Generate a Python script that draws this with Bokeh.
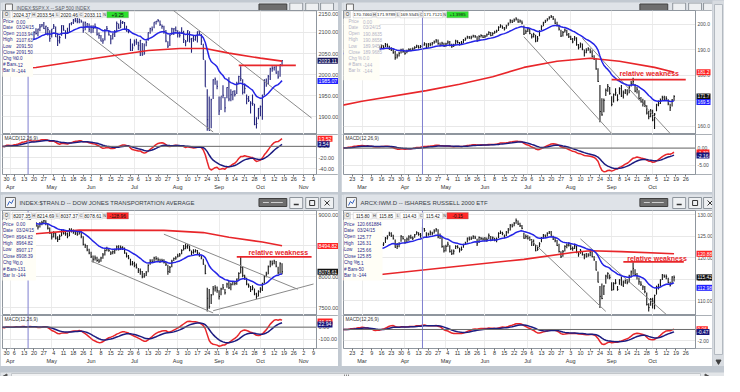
import numpy as np
import pandas as pd
from bokeh.plotting import figure
from bokeh.layouts import column, row
from bokeh.models import (Range1d, FixedTicker, LinearAxis, Span, Label, BoxAnnotation, ColumnDataSource)
from bokeh.embed import file_html
from bokeh.resources import INLINE

FONT = "Liberation Sans"
HOLIDAYS = ["2015-02-16", "2015-04-03", "2015-05-25", "2015-07-03", "2015-09-07"]
INFO_LABELS = ["Price", "Date", "Open", "High", "Low", "Close", "Chg %", "# Bars", "Bar Ix"]
HDR_LETTERS = ["H", "L", "C", "N"]

# ---------------- S&P 500 (top left), daily from 2015-03-25 ----------------
SPX_HIGH = [2097, 2067, 2067, 2088, 2084,
            2068, 2072, 2086, 2089, 2086, 2093, 2102, 2107, 2096, 2111, 2107, 2098, 2103, 2110, 2109, 2120, 2120, 2125, 2116, 2113, 2105,
            2108, 2120, 2114, 2098, 2092, 2117, 2117, 2105, 2111, 2121, 2124, 2132, 2134, 2134, 2133, 2130, 2126, 2126, 2122, 2121,
            2117, 2117, 2121, 2112, 2100, 2094, 2086, 2108, 2115, 2105, 2094, 2098, 2106, 2126, 2121, 2130, 2127, 2125, 2116, 2108, 2085, 2074,
            2083, 2085, 2078, 2082, 2075, 2074, 2081, 2100, 2111, 2114, 2124, 2127, 2132, 2128, 2119, 2116, 2106, 2079, 2095, 2111, 2110, 2114,
            2105, 2102, 2112, 2104, 2082, 2105, 2103, 2087, 2093, 2092, 2102, 2104, 2096, 2073, 2034, 1965, 1948, 1943, 1989, 1993, 1986,
            1948, 1948, 1975, 1947, 1970, 1994, 1965, 1961, 1963, 1983, 1997, 2020, 1989, 1979, 1953, 1949, 1937, 1953, 1931, 1899, 1921,
            1927, 1952, 1989, 1991, 1999, 2016, 2020, 2019, 2022, 2009, 2024, 2034]
SPX_LOW = [2061, 2045, 2052, 2062, 2067,
           2048, 2057, 2056, 2076, 2074, 2074, 2091, 2092, 2083, 2096, 2100, 2073, 2082, 2095, 2091, 2103, 2112, 2108, 2094, 2093, 2078,
           2088, 2108, 2089, 2068, 2074, 2092, 2104, 2085, 2096, 2100, 2117, 2120, 2124, 2122, 2122, 2123, 2099, 2105, 2112, 2101,
           2098, 2099, 2109, 2093, 2085, 2079, 2073, 2081, 2105, 2093, 2072, 2083, 2089, 2100, 2109, 2110, 2120, 2108, 2102, 2098, 2056, 2056,
           2067, 2071, 2058, 2044, 2045, 2047, 2067, 2080, 2097, 2102, 2110, 2119, 2124, 2115, 2109, 2097, 2077, 2063, 2068, 2094, 2094, 2102,
           2088, 2088, 2096, 2075, 2067, 2078, 2076, 2052, 2078, 2080, 2076, 2094, 2070, 2036, 1971, 1867, 1867, 1873, 1942, 1976, 1965,
           1904, 1916, 1944, 1911, 1944, 1937, 1937, 1939, 1948, 1954, 1977, 1984, 1953, 1955, 1930, 1935, 1908, 1926, 1880, 1872, 1894,
           1901, 1893, 1951, 1971, 1977, 1987, 2007, 2010, 2002, 1990, 1995, 2020]
SPX_CLOSE = [2061.05, 2056.15, 2061.02, 2086.24, 2067.89,
             2059.69, 2066.96, 2080.62, 2076.33, 2081.90, 2091.18, 2102.06, 2092.43, 2095.84, 2106.63, 2104.99, 2081.18, 2100.40, 2097.29, 2107.96, 2112.93, 2117.69, 2108.92, 2114.76, 2106.85, 2085.51,
             2108.29, 2114.49, 2089.46, 2080.15, 2088.00, 2116.10, 2105.33, 2099.12, 2098.48, 2121.10, 2122.73, 2129.20, 2127.83, 2125.85, 2130.82, 2126.06, 2104.20, 2123.48, 2120.79, 2107.39,
             2111.73, 2109.60, 2114.07, 2095.84, 2092.83, 2079.28, 2080.15, 2105.20, 2108.86, 2094.11, 2084.43, 2096.29, 2100.44, 2121.24, 2109.99, 2122.85, 2124.20, 2108.58, 2102.31, 2101.49, 2057.64, 2063.11,
             2077.42, 2076.78, 2068.76, 2081.34, 2046.68, 2051.31, 2076.62, 2099.60, 2108.95, 2107.40, 2124.29, 2126.64, 2128.28, 2119.21, 2114.15, 2102.15, 2079.65, 2067.64, 2093.25, 2108.57, 2108.63, 2103.84,
             2098.04, 2093.32, 2099.84, 2083.56, 2077.57, 2104.18, 2084.07, 2086.05, 2083.39, 2091.54, 2102.44, 2096.92, 2079.61, 2035.73, 1970.89, 1893.21, 1867.61, 1940.51, 1987.66, 1988.87, 1972.18,
             1913.85, 1948.86, 1951.13, 1921.22, 1969.41, 1942.04, 1952.29, 1961.05, 1953.03, 1978.09, 1995.31, 1990.20, 1958.03, 1966.97, 1942.74, 1938.76, 1932.24, 1931.34, 1881.77, 1884.09, 1920.03,
             1923.82, 1951.36, 1987.05, 1979.92, 1995.83, 2013.43, 2014.89, 2017.46, 2003.69, 1994.24, 2023.86, 2033.11]
SPX_RED_DATES = ["2015-03-25", "2015-04-21", "2015-06-05", "2015-07-13", "2015-08-04", "2015-08-21", "2015-09-09", "2015-10-01", "2015-10-16"]
SPX_RED_VALS = [2012, 2017, 2040, 2057, 2062, 2062, 2051, 2039, 2032]

# ---------------- top right ETF, daily from 2015-02-13 ----------------
ETF_HIGH = [189.4, 189.8, 190.3, 190.9, 190.9, 191.3, 191.9, 191.5, 191.9, 191.8,
            192.1, 191.7, 190.9, 191.8, 191.3, 190.9, 190.6, 191.0, 192.2, 191.7, 192.1, 191.8, 192.7, 192.5, 191.6, 191.0, 190.3, 189.5, 188.4, 189.2, 190.4, 190.5,
            189.7, 190.0, 190.6, 190.6, 190.9, 191.4, 192.0, 191.8, 191.9, 192.5, 193.0, 192.6, 192.7, 192.8, 193.1, 193.6, 194.2, 194.0, 192.9, 193.2, 192.8,
            192.8, 193.6, 193.4, 192.4, 192.4, 193.9, 193.7, 193.1, 193.4, 194.2, 194.8, 195.5, 195.4, 195.5, 195.9, 195.8, 195.3, 195.7, 196.1, 195.8,
            195.8, 196.4, 197.3, 197.0, 196.9, 197.5, 197.9, 199.2, 200.0, 199.5, 198.9, 199.8, 200.7, 202.0, 201.8, 202.3, 202.8, 202.2, 201.9, 201.5, 199.5, 198.0,
            198.8, 198.6, 196.3, 196.7, 195.9, 195.4, 197.7, 199.6, 201.0, 201.8, 202.4, 203.1, 203.6, 203.2, 202.3, 201.0, 199.8, 197.9, 197.4, 198.3, 197.9, 196.6,
            195.5, 194.6, 195.4, 194.9, 192.3, 192.9, 192.5, 190.1, 190.6, 191.0, 190.5, 189.8, 187.9, 186.7, 182.8, 176.2, 171.0, 170.9, 174.8, 176.6, 175.4,
            171.8, 172.9, 174.9, 172.6, 175.3, 176.2, 174.0, 174.6, 174.5, 175.8, 177.8, 179.0, 176.6, 175.4, 174.1, 171.5, 170.8, 170.2, 168.3, 166.0, 166.8,
            166.5, 165.2, 168.9, 170.1, 170.9, 172.0, 172.0, 171.8, 170.6, 168.9, 170.7, 172.2]
ETF_LOW = [187.8, 188.2, 188.9, 189.5, 189.4, 190.0, 190.6, 190.1, 190.5, 190.4,
           190.7, 190.2, 189.4, 190.0, 189.4, 189.6, 188.7, 189.0, 190.3, 190.2, 190.7, 190.4, 191.1, 190.9, 190.0, 189.5, 188.4, 186.1, 186.6, 187.4, 188.5, 188.8,
           188.1, 188.6, 189.2, 189.4, 189.5, 190.1, 190.7, 190.5, 190.6, 191.1, 191.6, 190.6, 190.9, 191.4, 191.7, 192.4, 192.8, 192.0, 191.3, 191.6, 191.2,
           191.2, 192.2, 191.4, 190.8, 191.1, 192.0, 192.5, 191.7, 192.0, 192.6, 193.5, 194.3, 194.3, 194.1, 194.8, 194.7, 193.3, 193.6, 194.8, 194.6,
           194.6, 195.1, 195.8, 195.3, 195.5, 196.3, 196.7, 197.4, 198.6, 198.2, 197.6, 198.2, 199.4, 200.4, 200.5, 200.9, 201.5, 200.6, 200.6, 200.0, 195.8, 196.2,
           197.0, 196.1, 194.4, 194.8, 193.0, 193.2, 195.3, 197.8, 199.2, 200.5, 201.2, 201.9, 202.5, 201.7, 200.1, 199.1, 197.6, 195.0, 195.2, 196.8, 195.5, 194.6,
           193.8, 192.6, 193.5, 191.6, 190.1, 190.8, 189.8, 187.4, 188.6, 189.6, 188.6, 187.0, 186.0, 182.2, 177.4, 161.6, 164.1, 165.5, 171.9, 173.6, 172.4,
           167.9, 169.3, 172.0, 169.8, 172.5, 171.5, 170.9, 172.7, 172.1, 173.0, 175.6, 176.4, 173.4, 172.9, 170.4, 169.3, 167.8, 167.6, 164.6, 162.8, 163.6,
           162.0, 159.0, 165.9, 167.9, 168.8, 170.1, 170.0, 170.2, 168.3, 166.0, 167.8, 170.0]
ETF_CLOSE = [188.5, 189.0, 189.6, 190.2, 190.0, 190.8, 191.2, 190.6, 191.4, 191.0,
             191.5, 190.6, 190.1, 191.2, 189.8, 190.4, 189.2, 190.5, 191.3, 190.8, 191.6, 190.9, 192.0, 191.4, 190.3, 189.9, 188.9, 186.9, 187.6, 188.6, 189.8, 189.3,
             188.6, 189.4, 190.1, 189.7, 190.3, 190.9, 191.5, 190.8, 191.3, 191.9, 192.4, 190.9, 192.2, 192.0, 192.6, 193.1, 193.5, 192.4, 191.8, 192.6, 191.4,
             192.3, 193.0, 191.7, 191.2, 191.9, 193.4, 192.8, 192.2, 192.6, 193.7, 194.2, 195.0, 194.6, 194.9, 195.4, 195.1, 193.5, 195.2, 195.6, 194.9,
             195.3, 195.9, 196.8, 195.6, 196.4, 196.9, 197.3, 198.8, 199.4, 198.6, 198.1, 199.3, 200.2, 201.4, 200.8, 201.7, 202.1, 200.9, 201.3, 200.5, 196.2, 197.1,
             198.2, 196.4, 195.1, 196.0, 193.4, 194.3, 197.2, 199.1, 200.5, 201.2, 202.0, 202.6, 203.0, 202.2, 200.4, 199.6, 198.1, 195.4, 196.8, 197.7, 195.9, 195.1,
             194.2, 193.1, 194.6, 192.0, 190.8, 192.3, 190.2, 188.9, 189.7, 190.4, 189.1, 187.3, 186.4, 182.5, 177.6, 165.8, 164.5, 170.2, 174.1, 175.6, 172.9,
             168.6, 172.4, 173.1, 170.5, 174.8, 171.9, 173.2, 174.0, 172.8, 175.3, 176.9, 177.6, 173.8, 174.5, 170.9, 169.8, 169.1, 168.2, 165.2, 163.8, 166.0,
             162.5, 164.8, 168.4, 168.9, 170.2, 171.3, 170.6, 170.9, 168.8, 167.3, 170.3, 171.71]
ETF_RED_DATES = ["2015-02-13", "2015-03-02", "2015-04-17", "2015-05-12", "2015-06-05", "2015-06-29", "2015-07-23", "2015-08-17", "2015-09-08", "2015-10-02", "2015-10-16"]
ETF_RED_VALS = [168.3, 169.8, 174.0, 176.5, 179.4, 183.1, 185.5, 186.7, 185.5, 183.1, 181.2]

# ---------------- Dow Jones Transportation (bottom left), daily from 2015-03-25 ----------------
TRAN_HIGH = [8900, 8860, 8870, 8920, 8910,
             8870, 8880, 8910, 8900, 8880, 8890, 8920, 8910, 8870, 8890, 8930, 8890, 8890, 8880, 8840, 8880, 8900, 8912, 8910, 8860, 8790,
             8720, 8730, 8710, 8650, 8680, 8760, 8760, 8720, 8710, 8780, 8780, 8760, 8740, 8730, 8750, 8730, 8650, 8530, 8510, 8450,
             8400, 8340, 8340, 8320, 8290, 8320, 8380, 8440, 8480, 8460, 8410, 8420, 8450, 8500, 8506, 8500, 8490, 8470, 8390, 8350, 8290, 8250,
             8240, 8210, 8140, 8130, 8090, 8060, 8090, 8200, 8280, 8280, 8320, 8330, 8310, 8290, 8290, 8280, 8240, 8190, 8170, 8270, 8310, 8330,
             8370, 8380, 8440, 8510, 8532, 8520, 8500, 8420, 8440, 8440, 8430, 8390, 8340, 8290, 8190, 7820, 7800, 7720, 7850, 7860, 7840,
             7780, 7820, 7880, 7800, 7900, 7930, 7900, 7930, 7930, 7970, 8070, 8330, 8160, 8030, 7980, 7890, 7850, 7860, 7810, 7740, 7780,
             7830, 7900, 8020, 8080, 8180, 8260, 8260, 8270, 8250, 8160, 8230, 8214.69]
TRAN_LOW = [8820, 8770, 8780, 8830, 8850,
            8790, 8800, 8820, 8840, 8800, 8820, 8860, 8840, 8790, 8800, 8860, 8820, 8820, 8800, 8760, 8790, 8830, 8860, 8830, 8760, 8690,
            8600, 8630, 8600, 8560, 8590, 8650, 8680, 8660, 8620, 8650, 8710, 8690, 8670, 8660, 8680, 8620, 8500, 8460, 8410, 8360,
            8300, 8227, 8260, 8240, 8220, 8240, 8290, 8340, 8410, 8400, 8350, 8360, 8370, 8420, 8420, 8430, 8430, 8370, 8310, 8280, 8180, 8180,
            8150, 8130, 8060, 8030, 7973, 7980, 8010, 8070, 8190, 8220, 8230, 8260, 8240, 8220, 8230, 8210, 8170, 8030, 8060, 8150, 8250, 8270,
            8310, 8320, 8360, 8420, 8440, 8450, 8410, 8350, 8370, 8390, 8350, 8320, 8280, 8190, 8040, 7439, 7480, 7560, 7700, 7760, 7740,
            7630, 7700, 7790, 7710, 7820, 7800, 7780, 7860, 7860, 7870, 7950, 8050, 7990, 7950, 7860, 7820, 7750, 7780, 7700, 7640, 7680,
            7740, 7770, 7890, 7990, 8040, 8150, 8180, 8200, 8150, 8040, 8050, 8037.37]
TRAN_CLOSE = [8850, 8800, 8830, 8900, 8860,
              8820, 8850, 8880, 8860, 8830, 8870, 8900, 8860, 8820, 8870, 8900, 8840, 8870, 8830, 8800, 8850, 8870, 8900, 8860, 8780, 8700,
              8640, 8700, 8620, 8600, 8650, 8740, 8700, 8690, 8650, 8760, 8740, 8720, 8700, 8680, 8720, 8650, 8520, 8500, 8430, 8380,
              8320, 8280, 8300, 8260, 8250, 8300, 8350, 8420, 8450, 8420, 8380, 8400, 8430, 8480, 8440, 8470, 8460, 8380, 8330, 8300, 8200, 8210,
              8180, 8150, 8100, 8080, 8000, 8010, 8060, 8180, 8250, 8240, 8300, 8290, 8270, 8250, 8260, 8230, 8200, 8080, 8150, 8250, 8290, 8300,
              8330, 8350, 8420, 8450, 8480, 8500, 8430, 8390, 8400, 8420, 8380, 8340, 8300, 8200, 8050, 7650, 7520, 7700, 7800, 7820, 7780,
              7680, 7800, 7820, 7740, 7880, 7820, 7870, 7920, 7890, 7960, 8050, 8150, 8020, 7990, 7880, 7850, 7790, 7820, 7720, 7680, 7760,
              7800, 7890, 8000, 8040, 8160, 8240, 8210, 8250, 8170, 8060, 8207.57, 8078.61]
TRAN_RED_DATES = ["2015-03-25", "2015-04-21", "2015-05-21", "2015-07-23", "2015-08-20", "2015-09-09", "2015-10-02", "2015-10-16"]
TRAN_RED_VALS = [8670, 8690, 8750, 8745, 8710, 8634, 8558, 8497]

# ---------------- iShares Russell 2000 (bottom right), daily from 2015-02-13 ----------------
IWM_HIGH = [122.3, 122.4, 122.2, 122.5, 123.2, 123.0, 123.2, 123.4, 123.6, 123.5,
            124.0, 123.4, 122.6, 123.0, 122.5, 122.3, 121.3, 121.4, 122.9, 122.5, 123.3, 123.6, 124.8, 125.2, 126.0, 125.9, 125.3, 124.2, 123.4, 123.6, 125.2, 125.0,
            124.3, 124.7, 125.2, 125.3, 124.9, 125.5, 126.1, 125.9, 125.7, 127.2, 126.9, 125.9, 125.8, 126.3, 126.0, 126.6, 126.9, 126.6, 125.6, 124.9, 122.8,
            123.0, 123.7, 122.9, 121.9, 121.9, 122.9, 122.9, 122.3, 122.6, 123.2, 123.7, 124.7, 124.9, 124.9, 125.2, 125.1, 124.4, 124.9, 124.8, 124.7,
            124.8, 124.7, 125.6, 125.0, 124.9, 124.6, 124.7, 125.9, 126.3, 126.0, 125.4, 126.2, 126.9, 127.8, 127.9, 128.3, 129.1, 128.6, 128.1, 127.6, 125.8, 125.4,
            125.2, 124.9, 124.3, 124.2, 123.0, 122.8, 123.6, 124.8, 125.5, 125.4, 125.9, 126.2, 126.2, 125.1, 124.7, 124.1, 123.2, 121.5, 121.8, 122.9, 123.3, 123.6,
            123.1, 122.6, 123.2, 122.8, 121.3, 122.0, 121.5, 120.9, 121.1, 121.0, 121.5, 121.4, 120.4, 119.2, 116.8, 113.4, 114.0, 113.6, 116.0, 116.6, 116.1,
            114.3, 114.3, 115.0, 113.4, 115.0, 115.6, 114.7, 114.9, 115.0, 116.0, 117.0, 118.9, 117.3, 116.4, 115.4, 114.5, 113.6, 113.4, 111.9, 109.4, 110.6,
            110.7, 111.4, 113.5, 113.9, 115.0, 116.2, 116.1, 116.1, 115.3, 114.4, 115.7, 115.85]
IWM_LOW = [121.3, 121.3, 121.2, 121.6, 122.2, 122.2, 122.3, 122.7, 122.9, 122.8,
           122.9, 122.5, 121.6, 121.8, 120.9, 121.1, 119.8, 120.1, 121.2, 121.6, 122.1, 122.7, 123.4, 124.2, 125.0, 124.8, 124.2, 122.3, 122.0, 122.4, 123.7, 124.2,
           123.2, 123.4, 123.9, 124.4, 124.1, 124.6, 125.3, 125.1, 124.6, 125.4, 126.0, 124.6, 125.1, 125.2, 125.2, 125.6, 126.0, 124.5, 124.3, 122.3, 121.2,
           121.4, 122.5, 121.2, 120.6, 120.7, 122.0, 122.1, 121.2, 121.6, 122.3, 123.0, 123.5, 124.0, 124.1, 124.3, 124.3, 122.7, 123.4, 124.1, 124.0,
           123.8, 123.7, 124.3, 123.8, 123.9, 123.8, 123.6, 124.5, 125.5, 125.2, 124.5, 125.0, 125.6, 126.3, 127.0, 127.3, 127.9, 127.6, 127.1, 126.6, 124.4, 124.4,
           124.2, 123.9, 122.7, 122.7, 121.5, 121.6, 122.4, 123.6, 124.4, 124.6, 124.9, 125.5, 125.1, 124.1, 123.6, 122.7, 121.2, 119.9, 120.2, 121.4, 122.2, 122.6,
           121.8, 121.6, 122.0, 121.0, 120.2, 120.9, 120.5, 119.6, 120.0, 120.2, 120.3, 120.1, 119.3, 117.0, 114.2, 108.3, 110.3, 111.3, 113.9, 115.1, 115.0,
           112.3, 112.4, 113.8, 112.3, 113.7, 113.5, 113.2, 113.9, 113.8, 114.2, 115.4, 116.0, 115.8, 114.9, 113.7, 113.4, 112.5, 111.7, 108.9, 107.5, 108.8,
           108.2, 108.0, 111.4, 112.6, 113.3, 114.8, 115.3, 115.0, 114.1, 113.3, 113.8, 114.43]
IWM_CLOSE = [121.8, 121.9, 121.7, 122.2, 122.9, 122.5, 122.9, 123.0, 123.3, 123.1,
             123.6, 122.7, 122.0, 122.6, 121.2, 121.9, 120.0, 121.0, 122.6, 121.8, 123.0, 123.2, 124.5, 124.8, 125.6, 125.2, 124.4, 122.4, 122.6, 123.3, 125.0, 124.4,
             123.5, 124.3, 124.8, 124.6, 124.5, 125.3, 125.8, 125.4, 125.2, 126.7, 126.3, 124.8, 125.4, 125.8, 125.6, 126.2, 126.5, 124.8, 124.9, 122.6, 121.6,
             122.6, 123.1, 121.4, 120.9, 121.5, 122.6, 122.4, 121.8, 121.9, 123.0, 123.4, 124.5, 124.3, 124.5, 124.9, 124.6, 123.2, 124.7, 124.4, 124.3,
             124.3, 124.2, 125.1, 124.0, 124.6, 124.0, 124.3, 125.6, 125.8, 125.6, 125.0, 125.9, 126.4, 127.5, 127.3, 127.9, 128.6, 127.8, 127.4, 126.8, 124.5, 124.9,
             124.5, 124.2, 123.7, 123.2, 121.6, 121.9, 123.2, 124.5, 125.2, 124.8, 125.6, 125.9, 125.2, 124.3, 123.9, 122.8, 121.4, 120.2, 121.4, 122.6, 122.9, 122.9,
             122.1, 122.1, 122.7, 121.3, 120.8, 121.7, 120.7, 120.6, 120.2, 120.6, 121.3, 120.2, 119.5, 117.1, 114.3, 111.0, 110.5, 113.4, 115.7, 116.3, 115.4,
             112.5, 114.0, 114.1, 112.6, 114.8, 113.6, 114.3, 114.7, 114.2, 115.7, 116.7, 117.5, 116.1, 115.8, 114.4, 113.8, 113.2, 112.1, 109.1, 108.4, 110.3,
             109.9, 111.2, 113.2, 113.0, 114.8, 115.9, 115.6, 115.6, 114.2, 113.6, 115.5, 115.42]
IWM_RED_DATES = ["2015-02-13", "2015-03-02", "2015-06-29", "2015-08-04", "2015-08-17", "2015-09-09", "2015-10-16"]
IWM_RED_VALS = [115.0, 115.6, 119.6, 121.2, 121.6, 121.4, 120.9]

CURSOR_DATE = "2015-04-15"


def trading_days(start, end):
    d = pd.bdate_range(start, end)
    return d[~d.isin(pd.to_datetime(HOLIDAYS))]


def ema(a, n):
    a = np.asarray(a, dtype=float)
    out = np.empty_like(a)
    out[0] = a[0]
    k = 2.0 / (n + 1)
    for i in range(1, len(a)):
        out[i] = out[i - 1] + k * (a[i] - out[i - 1])
    return out


def value_scale(fig, xb, xe, ticks, fmt, fs, lo, hi, hpx, tags, tag_fs):
    """Right-hand price scale drawn inside the frame: tick labels and coloured value tags."""
    fig.add_layout(BoxAnnotation(left=xb, right=xe + 5, fill_color="white", fill_alpha=1, line_color=None))
    fig.add_layout(Span(location=xb, dimension="height", line_color="#8f969e", line_width=1))
    for t in ticks:
        d = (hi - t) / (hi - lo) * hpx
        off = 0.0
        if d < 3.6:
            off = -(3.6 - d)
        elif hpx - d < 3.6:
            off = 3.6 - (hpx - d)
        fig.add_layout(Label(x=xb, y=t, x_offset=2, y_offset=off, text=fmt % t, text_font=FONT,
                             text_font_size=fs, text_color="#4a4a4a", text_baseline="middle"))
    for txt, val, col in tags:
        fig.add_layout(Label(x=xb, y=val, x_offset=1, text=txt, text_font=FONT, text_font_size=tag_fs,
                             text_color="white", text_baseline="middle", background_fill_color=col,
                             background_fill_alpha=1, padding=1))


def title_bar(width, height, title, right_side, small):
    t = figure(width=width, height=height, x_range=Range1d(0, width), y_range=Range1d(0, height),
               toolbar_location=None, output_backend="svg", x_axis_location=None, y_axis_location=None,
               min_border=0, background_fill_color="#dfe3e8", border_fill_color="#dfe3e8",
               outline_line_color=None)
    t.grid.visible = False
    if right_side:
        dark, btns = width - 73, [width - 40, width - 24, width - 9]
    else:
        dark, btns = width - 80, [width - 49, width - 33, width - 18]
    if small:
        t.quad(left=[3], right=[10], bottom=[1.5], top=[height - 1.5], fill_color="#f7f7f7", line_color="#6b6b6b")
        if title:
            t.add_layout(Label(x=14, y=height / 2 - 0.5, text=title, text_font=FONT, text_font_size="4.8px",
                               text_color="#5a6068", text_baseline="middle"))
        t.quad(left=[dark], right=[dark + 28], bottom=[1.5], top=[height - 1.5], fill_color="#6e6e6e", line_color="#404040")
        for b in btns:
            t.quad(left=[b], right=[b + 13], bottom=[0.5], top=[height - 0.5], fill_color="#eef0f2", line_color="#8e959c")
        return t
    t.quad(left=[3], right=[13], bottom=[3], top=[13], fill_color="#f7f7f7", line_color="#6b6b6b")
    t.line([5, 7, 9, 11], [5, 9, 7, 11], line_color="#2f5fbf", line_width=1)
    if title:
        t.add_layout(Label(x=17, y=8, text=title, text_font=FONT, text_font_size="6px",
                           text_color="#3a3f45", text_baseline="middle"))
    t.quad(left=[dark], right=[dark + 28], bottom=[4], top=[12], fill_color="#6e6e6e", line_color="#404040")
    t.segment(x0=[dark + 4, dark + 12], y0=[8, 8], x1=[dark + 10, dark + 24], y1=[8, 8], line_color="#cfcfcf")
    for b in btns:
        t.quad(left=[b], right=[b + 13], bottom=[2], top=[13], fill_color="#eef0f2", line_color="#8e959c")
    t.segment(x0=[btns[0] + 4], y0=[6], x1=[btns[0] + 9], y1=[6], line_color="#333", line_width=1.5)
    t.quad(left=[btns[1] + 4], right=[btns[1] + 9], bottom=[5], top=[10], fill_color=None, line_color="#333")
    t.segment(x0=[btns[2] + 4, btns[2] + 4], y0=[5, 10], x1=[btns[2] + 9, btns[2] + 9], y1=[10, 5], line_color="#333")
    return t


def build(cfg):
    W, bl, br = cfg["W"], cfg["bl"], cfg["br"]
    cal = trading_days(cfg["cal_start"], cfg["cal_end"])
    n = min(len(cfg["high"]), len(cfg["low"]), len(cfg["close"]))
    hi = np.asarray(cfg["high"][:n], float)
    lo = np.asarray(cfg["low"][:n], float)
    cl = np.asarray(cfg["close"][:n], float)
    x = np.arange(n, dtype=float)

    def di(s):
        return float(np.searchsorted(cal.values, np.datetime64(s)))

    x0, x1 = cfg["x0"], cfg["x1"]
    x1e = x0 + (x1 - x0) * (W - bl) / (W - bl - br)   # frame also holds the value scale
    xr = Range1d(x0, x1e)
    plo, phi = cfg["prange"]
    mlo, mhi = cfg["mrange"]

    def fx(r):
        return x0 + r / cfg["ref_fw"] * (x1 - x0)

    def fy(r):
        return phi - r / cfg["ref_ph"] * (phi - plo)

    def my(r):
        return mhi - r / cfg["ref_mh"] * (mhi - mlo)

    week_t, week_l, mon_t, mon_l = [], {}, [], {}
    for i, d in enumerate(cal):
        if i == 0 or d.weekday() <= cal[i - 1].weekday():
            if x0 + 1.5 <= i <= x1 - 1:
                week_t.append(i)
                week_l[float(i)] = str(d.day)
        if i == 0 or d.month != cal[i - 1].month:
            if x0 + 1.5 <= i <= x1 - 3:
                mon_t.append(i)
                mon_l[float(i)] = d.strftime("%b")

    # ---------------- price panel ----------------
    p = figure(width=W, height=cfg["ph"], x_range=xr, y_range=Range1d(plo, phi),
               toolbar_location=None, output_backend="svg", x_axis_location=None,
               y_axis_location=None, min_border_left=bl, min_border_right=0,
               min_border_top=0, min_border_bottom=0, background_fill_color="white",
               border_fill_color="white", outline_line_color="#8f969e")
    p.ygrid.ticker = FixedTicker(ticks=cfg["pticks"])
    p.ygrid.grid_line_color = "#e8e8e8"
    p.xgrid.ticker = FixedTicker(ticks=mon_t)
    p.xgrid.grid_line_color = "#ececec"

    cur = di(CURSOR_DATE)
    p.add_layout(Span(location=cur, dimension="height", line_color="#7f7fcf", line_width=1))

    src = ColumnDataSource(dict(x=x, hi=hi, lo=lo, c=cl, xc=x + 0.45))
    p.segment(x0="x", y0="lo", x1="x", y1="hi", source=src, line_color=cfg["bar_color"], line_width=1.1)
    p.segment(x0="x", y0="c", x1="xc", y1="c", source=src, line_color=cfg["bar_color"], line_width=1)

    for d0, v0, d1, v1 in cfg["trend"]:
        p.line([di(d0), di(d1)], [v0, v1], line_color="#8a8a8a", line_width=1)
    red_x = [di(d) for d in cfg["red_dates"]]
    p.line(red_x, cfg["red_vals"], line_color="#e8262a", line_width=1.6)
    p.line(x, ema(cl, 20), line_color="#2424e6", line_width=1.5)
    rd0, rd1, rv = cfg["resist"]
    p.line([di(rd0), di(rd1)], [rv, rv], line_color="#e8262a", line_width=1.6)
    if cfg["rw"]:
        p.add_layout(Label(x=di(cfg["rw"][0]), y=cfg["rw"][1], text="relative weakness", text_font=FONT,
                           text_font_size="7px", text_font_style="bold", text_color="#e8262a",
                           text_baseline="middle"))

    # info box
    ix0, ix1, iy0, iy1 = cfg["ibox"]
    p.add_layout(BoxAnnotation(left=fx(ix0), right=fx(ix1), top=fy(iy0), bottom=fy(iy1),
                               fill_color="#fffef6", fill_alpha=1, line_color=None))
    ry0, rdy = cfg["irows"]
    lx, vx = cfg["icols"]
    for k, (lab, val) in enumerate(zip(INFO_LABELS, cfg["info"])):
        yy = fy(ry0 + k * rdy)
        p.add_layout(Label(x=fx(lx), y=yy, text=lab, text_font=FONT, text_font_size="4.6px",
                           text_color=cfg["icolor"], text_baseline="middle"))
        p.add_layout(Label(x=fx(vx), y=yy, text=val, text_font=FONT, text_font_size="4.6px",
                           text_color=cfg["icolor"], text_baseline="middle"))

    # header strip
    hy0, hy1 = cfg["hrow"]
    hyc = fy((hy0 + hy1) / 2)
    p.add_layout(BoxAnnotation(left=fx(1), right=fx(7), top=fy(hy0), bottom=fy(hy1),
                               fill_color="#e9e9e9", fill_alpha=1, line_color="#8a8a8a"))
    p.add_layout(Label(x=fx(4), y=hyc, text="O", text_font=FONT, text_font_size="4.5px",
                       text_color="#333", text_align="center", text_baseline="middle"))
    for k, val in enumerate(cfg["hdr"]):
        a = 10 + 24 * k
        p.add_layout(BoxAnnotation(left=fx(a), right=fx(a + 19.5), top=fy(hy0), bottom=fy(hy1),
                                   fill_color="white", fill_alpha=1, line_color="#9a9a9a"))
        p.add_layout(Label(x=fx(a + 9.75), y=hyc, text=val, text_font=FONT, text_font_size=cfg["hfs"],
                           text_color="#222", text_align="center", text_baseline="middle"))
        p.add_layout(BoxAnnotation(left=fx(a + 20), right=fx(a + 23.5), top=fy(hy0), bottom=fy(hy1),
                                   fill_color="#e4e4e4", fill_alpha=1, line_color=None))
        p.add_layout(Label(x=fx(a + 21.75), y=hyc, text=HDR_LETTERS[k], text_font=FONT, text_font_size="4px",
                           text_color="#444", text_align="center", text_baseline="middle"))
    p.add_layout(BoxAnnotation(left=fx(106), right=fx(128), top=fy(hy0), bottom=fy(hy1),
                               fill_color=cfg["chg_col"], fill_alpha=1, line_color="#777"))
    p.add_layout(Label(x=fx(117), y=hyc, text=cfg["chg"], text_font=FONT, text_font_size=cfg["hfs"],
                       text_color="#111", text_align="center", text_baseline="middle"))

    value_scale(p, x1, x1e, cfg["pticks"], cfg["pfmt"], cfg["fs"], plo, phi, cfg["ph"], cfg["ptags"], cfg["tfs"])

    # ---------------- MACD panel ----------------
    ah = cfg["ah"]
    m = figure(width=W, height=cfg["mh"] + ah, x_range=xr, y_range=Range1d(mlo, mhi),
               toolbar_location=None, output_backend="svg", y_axis_location=None,
               min_border_left=bl, min_border_right=0, min_border_top=0, min_border_bottom=ah,
               background_fill_color="white", border_fill_color="white", outline_line_color="#8f969e")
    m.ygrid.ticker = FixedTicker(ticks=cfg["mticks"])
    m.ygrid.grid_line_color = "#e8e8e8"
    m.xgrid.ticker = FixedTicker(ticks=mon_t)
    m.xgrid.grid_line_color = "#ececec"
    xa = m.xaxis[0]
    xa.ticker = FixedTicker(ticks=week_t)
    xa.major_label_overrides = week_l
    xa.major_label_text_font_size = "5.5px"
    xa.major_label_text_font = FONT
    xa.major_label_text_color = "#333"
    xa.major_label_text_align = "left"
    xa.major_label_standoff = 0
    xa.major_tick_out = 2
    xa.major_tick_in = 0
    xa.minor_tick_out = 0
    xa.minor_tick_line_color = None
    xa.major_tick_line_color = "#777"
    xa.axis_line_color = None
    ma = LinearAxis(ticker=FixedTicker(ticks=mon_t), major_label_overrides=mon_l,
                    major_label_text_font_size="5.5px", major_label_text_font=FONT,
                    major_label_text_color="#333", major_label_text_align="left",
                    major_label_standoff=0, major_tick_out=0, major_tick_in=0, minor_tick_out=0,
                    major_tick_line_color=None, minor_tick_line_color=None, axis_line_color=None)
    m.add_layout(ma, "below")
    m.add_layout(Span(location=cur, dimension="height", line_color="#7f7fcf", line_width=1))
    m.add_layout(Span(location=0, dimension="width", line_color="#6a6a6a", line_width=1))
    macd = ema(cl, 12) - ema(cl, 26)
    sig = ema(macd, 9)
    m.line(x, macd, line_color="#e8262a", line_width=1.5)
    m.line(x, sig, line_color="#1c1c80", line_width=1.5)
    m.add_layout(Label(x=x0 + 1.0, y=my(4), text="MACD(12,26,9)", text_font=FONT, text_font_size="4.8px",
                       text_color="#333", text_baseline="middle"))
    value_scale(m, x1, x1e, cfg["mticks"], "%.2f", cfg["fs"], mlo, mhi, cfg["mh"], cfg["mtags"], cfg["tfs"])

    t = title_bar(W, cfg["th"], cfg["title"], cfg["right"], cfg["th"] < 12)
    return column(t, p, m, spacing=0)


LEFT = dict(W=338, bl=2, br=22, x0=1.0, x1=160.5, ref_fw=319, cal_start="2015-03-25", cal_end="2015-11-13",
            fs="5.5px", tfs="5.2px", right=False, ibox=(-3, 31, 9, 72), icols=(0.5, 14))
RIGHT = dict(W=371, bl=2, br=17, x0=0.5, x1=181.0, ref_fw=361, cal_start="2015-02-13", cal_end="2015-11-06",
             fs="5px", tfs="4.8px", right=True, ibox=(-3, 37, 9, 76))
TOP = dict(th=10, ph=124, mh=42, ah=16, ref_ph=135, ref_mh=44, hrow=(1, 8), irows=(12, 6.7))
BOT = dict(th=16, ph=105, mh=35, ah=16, ref_ph=111, ref_mh=37, hrow=(2, 9), irows=(14.3, 6.8))

TL_CFG = dict(LEFT, **TOP, title="INDEX:$SPX.X -- S&P 500 INDEX", high=SPX_HIGH, low=SPX_LOW, close=SPX_CLOSE,
              prange=(1858, 2152), pticks=[1900, 1950, 2000, 2050, 2100, 2150], pfmt="%.2f",
              mrange=(-50, 21), mticks=[-40, -20, 0], bar_color="#23237a",
              red_dates=SPX_RED_DATES, red_vals=SPX_RED_VALS,
              trend=[("2015-07-29", 2155, "2015-11-06", 1897), ("2015-05-27", 2100, "2015-08-27", 1864)],
              resist=("2015-09-16", "2015-10-27", 2022), rw=None,
              info=["0.00", "03/24/15", "2103.94", "2107.63", "2091.50", "2091.50", "0.0", "-12", "-144"],
              icolor="#2a2a8c", hdr=["2024.37", "2033.54", "2020.46", "2033.11"], hfs="4.8px",
              chg="+9.25", chg_col="#2ee02e",
              ptags=[("2033.11", 2033.11, "#15155c"), ("1985.07", 1985.07, "#2020ff")],
              mtags=[("13.52", 13.52, "#ff2424"), ("3.54", 3.54, "#15157a")])

TR_CFG = dict(RIGHT, **TOP, title="", high=ETF_HIGH, low=ETF_LOW, close=ETF_CLOSE,
              prange=(156.8, 205.4), pticks=[160, 170, 180, 190, 200], pfmt="%.1f",
              mrange=(-7.6, 3.9), mticks=[-5, 0], bar_color="#161616",
              red_dates=ETF_RED_DATES, red_vals=ETF_RED_VALS,
              trend=[("2015-06-29", 195.1, "2015-09-01", 157.2), ("2015-08-11", 194.5, "2015-10-14", 157.2)],
              resist=("2015-09-01", "2015-10-26", 178.3), rw=("2015-09-08", 180.9),
              info=["0.00", "03/24/15", "190.8635", "190.8658", "189.9457", "189.9685", "0.0", "-144", "-144"],
              icolor="#b4b4c6", icols=(5, 20), hdr=["170.7460", "171.9789", "169.5545", "171.7121"], hfs="4.4px",
              chg="+1.3985", chg_col="#2ee02e",
              ptags=[("181.2", 181.21, "#ff2424"), ("171.7", 171.71, "#111111"), ("169.5", 169.55, "#2020ff")],
              mtags=[("-1.30", -1.30, "#ff2424"), ("-2.16", -2.16, "#15157a")])

BL_CFG = dict(LEFT, **BOT, title="INDEX:$TRAN.D -- DOW JONES TRANSPORTATION AVERAGE",
              high=TRAN_HIGH, low=TRAN_LOW, close=TRAN_CLOSE,
              prange=(7373, 9066), pticks=[7500, 8000, 8500, 9000], pfmt="%.2f",
              mrange=(-180, 98), mticks=[-100, 0], bar_color="#161616",
              red_dates=TRAN_RED_DATES, red_vals=TRAN_RED_VALS,
              trend=[("2015-07-23", 8684, "2015-10-28", 7796), ("2015-06-01", 8253, "2015-08-27", 7415),
                     ("2015-08-27", 7450, "2015-11-09", 7881)],
              resist=("2015-09-15", "2015-11-06", 8319), rw=("2015-09-23", 8390),
              info=["0.00", "03/24/15", "8964.82", "8964.82", "8907.17", "8908.39", "0.0", "-131", "-144"],
              icolor="#2a2a8c", hdr=["8207.35", "8214.69", "8037.37", "8078.61"], hfs="4.8px",
              chg="-128.96", chg_col="#ff2a2a",
              ptags=[("8494.82", 8494.82, "#ff2424"), ("8078.61", 8078.61, "#111111")],
              mtags=[("46.63", 46.63, "#ff2424"), ("22.94", 22.94, "#15157a")])
BL_CFG["ibox"] = (-3, 34, 10, 74)

BR_CFG = dict(RIGHT, **BOT, title="ARCX:IWM.D -- ISHARES RUSSELL 2000 ETF",
              high=IWM_HIGH, low=IWM_LOW, close=IWM_CLOSE,
              prange=(106.55, 130.95), pticks=[110, 115, 120, 125, 130], pfmt="%.2f",
              mrange=(-3.4, 2.5), mticks=[-2, 0], bar_color="#161616",
              red_dates=IWM_RED_DATES, red_vals=IWM_RED_VALS,
              trend=[("2015-07-01", 124.7, "2015-08-27", 107.5), ("2015-08-10", 124.35, "2015-10-12", 106.8)],
              resist=("2015-09-10", "2015-10-23", 119.0), rw=("2015-09-14", 119.7),
              info=["120.661884", "03/24/15", "125.77", "126.31", "125.66", "125.85", "5.1", "-50", "-144"],
              icolor="#2a2a8c", icols=(0.5, 14), hdr=["115.80", "115.85", "114.43", "115.42"], hfs="4.6px",
              chg="-0.15", chg_col="#ff2a2a",
              ptags=[("120.88", 120.88, "#ff2424"), ("115.42", 115.42, "#111111"), ("112.98", 112.98, "#2020ff")],
              mtags=[("0.06", 0.06, "#ff2424"), ("-0.47", -0.47, "#15157a")])
BR_CFG["ibox"] = (-3, 40, 10, 74)

tl = build(TL_CFG)
tr = build(TR_CFG)
bl = build(BL_CFG)
br = build(BR_CFG)

# scrollbars
vs = figure(width=12, height=366, x_range=Range1d(0, 12), y_range=Range1d(0, 366), toolbar_location=None,
            output_backend="svg", x_axis_location=None, y_axis_location=None, min_border=0,
            background_fill_color="#d8dce1", border_fill_color="#d8dce1", outline_line_color=None)
vs.grid.visible = False
vs.quad(left=[2], right=[10], bottom=[12], top=[362], fill_color="#edeff1", line_color="#b3b9c0")
vs.scatter([6], [5], marker="triangle", size=5, angle=np.pi, color="#404040")

hs = figure(width=724, height=8, x_range=Range1d(0, 724), y_range=Range1d(0, 8), toolbar_location=None,
            output_backend="svg", x_axis_location=None, y_axis_location=None, min_border=0,
            background_fill_color="#e2e5e8", border_fill_color="#e2e5e8", outline_line_color=None)
hs.grid.visible = False
hs.quad(left=[11], right=[700], bottom=[1], top=[7], fill_color="#f1f2f3", line_color="#c2c6ca")
hs.scatter([5], [4], marker="triangle", size=5, angle=np.pi / 2, color="#505050")
hs.scatter([706], [4], marker="triangle", size=5, angle=-np.pi / 2, color="#505050")
hs.segment(x0=[344, 346, 348], y0=[2, 2, 2], x1=[344, 346, 348], y1=[6, 6, 6], line_color="#888")

inner = column(row(tl, tr, spacing=3), row(bl, br, spacing=3), spacing=2)
root = column(row(inner, vs, spacing=0), hs, spacing=2, styles={"background-color": "#c2c9d1"})

open("out.html", "w").write(file_html(root, INLINE))
